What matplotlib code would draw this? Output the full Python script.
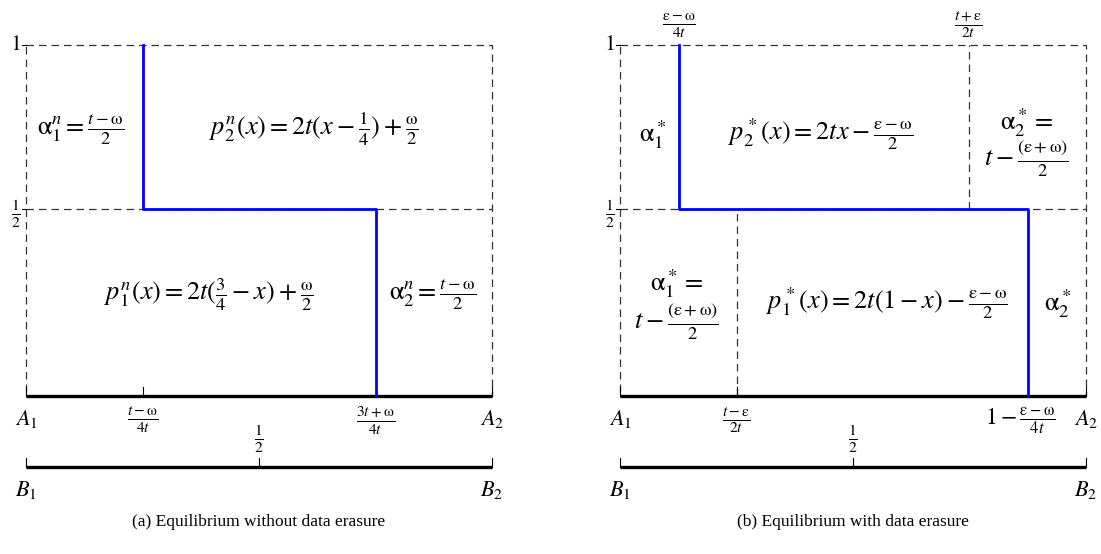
import matplotlib.pyplot as plt

plt.rcParams['mathtext.fontset'] = 'stix'
plt.rcParams['font.family'] = ['Liberation Serif', 'DejaVu Serif']

# diagram geometry (unit interval on x, A-line at y=0, top at y=1)
y_half = 0.533
y_b = -0.202

# (a) no erasure
a_blue_x = [0.25, 0.25, 0.75, 0.75]
a_ticks = [0.25, 0.75]
a_tick_labels = [r'$\frac{t-\mathrm{\omega}}{4t}$', r'$\frac{3t+\mathrm{\omega}}{4t}$']

# (b) with erasure
b_blue_x = [0.126, 0.126, 0.876, 0.876]
b_ticks = [0.25, 0.876]
b_low_split = 0.25
b_top_split = 0.748

blue_y = [1, y_half, y_half, 0]

W, H = 1101, 554
fig = plt.figure(figsize=(W / 100, H / 100), dpi=100)


def make_ax(x0):
    ax = fig.add_axes([x0 / W, (H - 396) / H, 466 / W, 351 / H])
    ax.set_xlim(0, 1)
    ax.set_ylim(0, 1)
    ax.axis('off')
    return ax


dash = dict(color='#333333', lw=0.9, ls=(0, (6, 4)), clip_on=False)
thick = dict(color='black', lw=2.4, clip_on=False, solid_capstyle='butt')
tk = dict(color='black', lw=0.8, clip_on=False)
blue = dict(color='#0000ff', lw=2.0, clip_on=False)
fs = 19
fl = 16


def frame(ax):
    ax.plot([0, 1, 1, 0, 0], [1, 1, 0, 0, 1], **dash)
    ax.plot([0, 1], [y_half, y_half], **dash)
    for yy in [1, y_half]:
        ax.plot([-0.008, 0], [yy, yy], **tk)
    ax.plot([0, 1], [0, 0], **thick)
    ax.plot([0, 1], [y_b, y_b], **thick)
    for xx in [0, 1]:
        ax.plot([xx, xx], [0, 0.025], **tk)
        ax.plot([xx, xx], [y_b, y_b + 0.025], **tk)
    ax.plot([0.5, 0.5], [y_b, y_b + 0.025], **tk)
    ax.text(-0.012, 1, r'$1$', ha='right', va='center', fontsize=fl)
    ax.text(-0.012, y_half - 0.015, r'$\frac{1}{2}$', ha='right', va='center', fontsize=fl)
    ax.text(0.5, y_b + 0.035, r'$\frac{1}{2}$', ha='center', va='bottom', fontsize=fl)
    ax.text(0, -0.035, r'$A_1$', ha='center', va='top', fontsize=fl)
    ax.text(1, -0.035, r'$A_2$', ha='center', va='top', fontsize=fl)
    ax.text(0, y_b - 0.035, r'$B_1$', ha='center', va='top', fontsize=fl)
    ax.text(1, y_b - 0.035, r'$B_2$', ha='center', va='top', fontsize=fl)


# panel (a)
ax = make_ax(26)
frame(ax)
for xx in a_ticks:
    ax.plot([xx, xx], [0, 0.025], **tk)
ax.plot(a_blue_x, blue_y, **blue)
for xx, lab in zip(a_ticks, a_tick_labels):
    ax.text(xx, -0.025, lab, ha='center', va='top', fontsize=fl)
ax.text(0.118, 0.76, r'$\mathrm{\alpha}_1^n = \frac{t-\mathrm{\omega}}{2}$', ha='center', va='center', fontsize=fs)
ax.text(0.618, 0.76, r'$p_2^n(x) = 2t(x - \frac{1}{4}) + \frac{\mathrm{\omega}}{2}$', ha='center', va='center', fontsize=fs)
ax.text(0.393, 0.288, r'$p_1^n(x) = 2t(\frac{3}{4} - x) + \frac{\mathrm{\omega}}{2}$', ha='center', va='center', fontsize=fs)
ax.text(0.872, 0.288, r'$\mathrm{\alpha}_2^n = \frac{t-\mathrm{\omega}}{2}$', ha='center', va='center', fontsize=fs)
ax.text(0.5, -0.36, '(a) Equilibrium without data erasure', ha='center', va='center', fontsize=12.5)

# panel (b)
ax = make_ax(620)
frame(ax)
ax.plot([b_low_split, b_low_split], [0, y_half], **dash)
ax.plot([b_top_split, b_top_split], [y_half, 1], **dash)
for xx in b_ticks:
    ax.plot([xx, xx], [0, 0.025], **tk)
ax.plot(b_blue_x, blue_y, **blue)
ax.text(b_ticks[0], -0.025, r'$\frac{t-\mathrm{\varepsilon}}{2t}$', ha='center', va='top', fontsize=fl)
ax.text(0.935, -0.025, r'$1 - \frac{\mathrm{\varepsilon}-\mathrm{\omega}}{4t}$', ha='right', va='top', fontsize=fl + 1)
ax.text(b_blue_x[0], 1.015, r'$\frac{\mathrm{\varepsilon}-\mathrm{\omega}}{4t}$', ha='center', va='bottom', fontsize=fl)
ax.text(b_top_split, 1.015, r'$\frac{t+\mathrm{\varepsilon}}{2t}$', ha='center', va='bottom', fontsize=fl)
ax.text(0.071, 0.745, r'$\mathrm{\alpha}_1^*$', ha='center', va='center', fontsize=fs)
ax.text(0.43, 0.745, r'$p_2^*(x) = 2tx - \frac{\mathrm{\varepsilon}-\mathrm{\omega}}{2}$', ha='center', va='center', fontsize=fs)
ax.text(0.873, 0.78, r'$\mathrm{\alpha}_2^* =$', ha='center', va='center', fontsize=fs)
ax.text(0.873, 0.675, r'$t - \frac{(\mathrm{\varepsilon}+\mathrm{\omega})}{2}$', ha='center', va='center', fontsize=fs)
ax.text(0.122, 0.319, r'$\mathrm{\alpha}_1^* =$', ha='center', va='center', fontsize=fs)
ax.text(0.122, 0.21, r'$t - \frac{(\mathrm{\varepsilon}+\mathrm{\omega})}{2}$', ha='center', va='center', fontsize=fs)
ax.text(0.573, 0.262, r'$p_1^*(x) = 2t(1 - x) - \frac{\mathrm{\varepsilon}-\mathrm{\omega}}{2}$', ha='center', va='center', fontsize=fs)
ax.text(0.94, 0.262, r'$\mathrm{\alpha}_2^*$', ha='center', va='center', fontsize=fs)
ax.text(0.5, -0.36, '(b) Equilibrium with data erasure', ha='center', va='center', fontsize=12.5)

fig.savefig('out.png', dpi=100)
